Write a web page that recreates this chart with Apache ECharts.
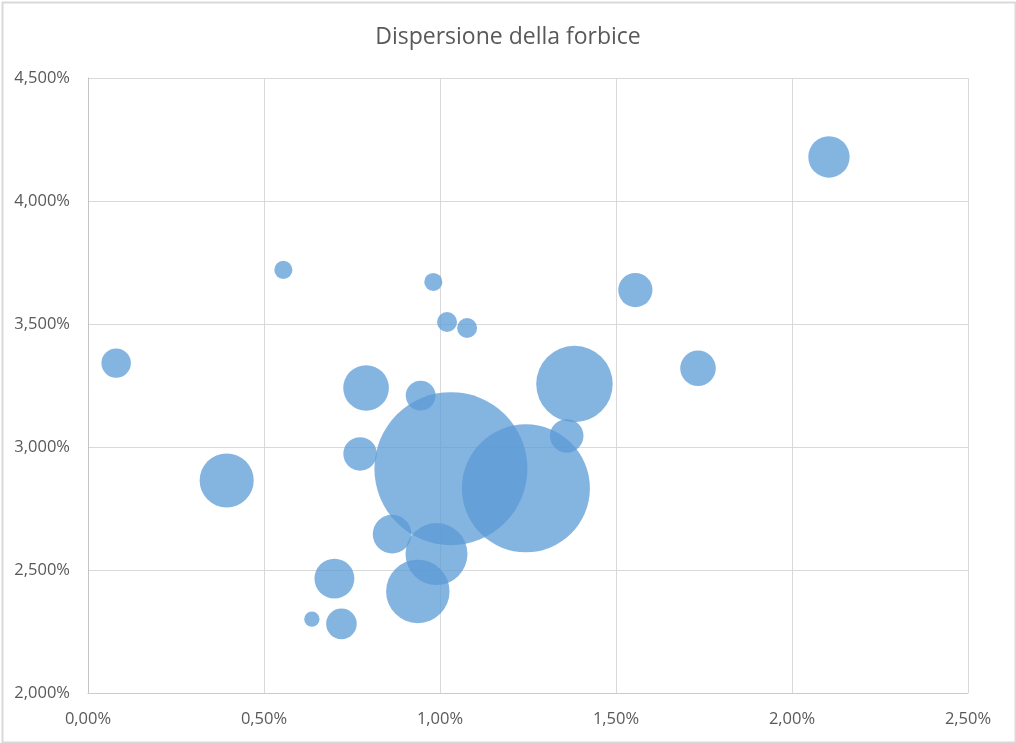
<!DOCTYPE html>
<html>
<head>
<meta charset="utf-8">
<script src="https://cdn.jsdelivr.net/npm/echarts@6/dist/echarts.min.js"></script>
<style>
html,body{margin:0;padding:0;background:#fff;}
#chart{width:1016px;height:743px;}
</style>
</head>
<body>
<div id="chart"></div>
<script>
// Data (percent units)
const title = "Dispersione della forbice";
const xValues = [2.105, 0.555, 0.981, 1.555, 1.020, 1.077, 0.080, 1.733, 1.382, 0.790, 0.945, 1.360, 0.773, 1.031, 1.244, 0.394, 0.864, 0.990, 0.700, 0.937, 0.636, 0.720];
const yValues = [4.179, 3.720, 3.671, 3.638, 3.508, 3.484, 3.341, 3.320, 3.256, 3.240, 3.209, 3.045, 2.972, 2.912, 2.832, 2.864, 2.646, 2.565, 2.465, 2.413, 2.300, 2.281];
const sizeValues = [7.3, 1.4, 1.4, 5.0, 1.7, 1.7, 3.7, 5.4, 25.0, 8.9, 3.8, 4.8, 4.8, 100, 70, 12.5, 6.4, 16.4, 6.8, 17.2, 1.0, 4.0];
const xTicks = {min: 0, max: 2.5, interval: 0.5};
const yTicks = {min: 2.0, max: 4.5, interval: 0.5};

const data = xValues.map((x, i) => [x, yValues[i], sizeValues[i]]);
const maxSize = Math.max(...sizeValues);

const chart = echarts.init(document.getElementById('chart'), null, {renderer: 'canvas'});
const font = "'Open Sans', 'DejaVu Sans', sans-serif";
chart.setOption({
  animation: false,
  backgroundColor: '#ffffff',
  title: {
    text: title,
    left: 'center',
    top: 21,
    textStyle: {fontFamily: font, fontSize: 23, fontWeight: 'normal', color: '#595959'}
  },
  grid: {left: 88, right: 48, top: 78, bottom: 50, containLabel: false},
  xAxis: {
    type: 'value',
    min: xTicks.min, max: xTicks.max, interval: xTicks.interval,
    axisLine: {show: true, lineStyle: {color: '#cccccc', width: 1}},
    axisTick: {show: false},
    splitLine: {show: true, lineStyle: {color: '#d9d9d9', width: 1}},
    axisLabel: {
      margin: 18,
      fontFamily: font, fontSize: 16.5, color: '#595959',
      formatter: v => v.toFixed(2).replace('.', ',') + '%'
    }
  },
  yAxis: {
    type: 'value',
    min: yTicks.min, max: yTicks.max, interval: yTicks.interval,
    axisLine: {show: true, lineStyle: {color: '#c4c4c4', width: 1}},
    axisTick: {show: false},
    splitLine: {show: true, lineStyle: {color: '#d9d9d9', width: 1}},
    axisLabel: {
      margin: 18,
      fontFamily: font, fontSize: 16.5, color: '#595959',
      formatter: v => v.toFixed(3).replace('.', ',') + '%'
    }
  },
  graphic: [{
    type: 'rect',
    left: 0, top: 0,
    shape: {x: 1, y: 1, width: 1013, height: 740},
    style: {fill: 'none', stroke: '#d9d9d9', lineWidth: 2},
    silent: true
  }],
  series: [{
    type: 'scatter',
    data: data,
    symbolSize: d => 153 * Math.sqrt(d[2] / maxSize),
    itemStyle: {color: '#5B9BD5', opacity: 0.75},
    emphasis: {disabled: true}
  }]
});
</script>
</body>
</html>
